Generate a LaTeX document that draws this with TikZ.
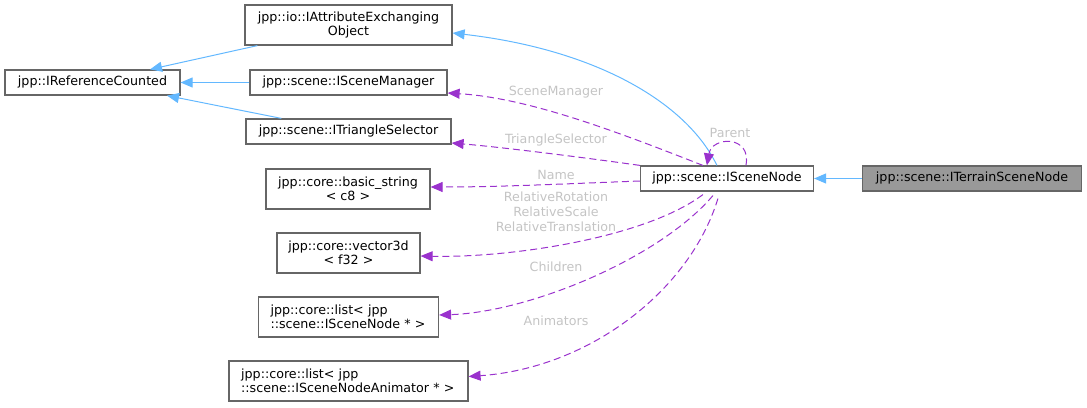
\documentclass[tikz,border=0pt]{standalone}
\usepackage{fontspec}
\setmainfont{DejaVu Sans}
\usepackage{tikz}
\usetikzlibrary{arrows.meta, calc}

\definecolor{inhblue}{HTML}{63B8FF}
\definecolor{usepurple}{HTML}{9A32CD}
\definecolor{boxgray}{HTML}{666666}
\definecolor{lblgray}{HTML}{C4C4C4}

\begin{document}
\begin{tikzpicture}[
        x=0.75pt, y=-0.75pt,
        cls/.style={rectangle, draw=boxgray, line width=0.9pt, inner sep=0pt, minimum width=#1, font=\fontsize{9.5}{10.5}\selectfont, align=center},
        one/.style={minimum height=18.75pt},
        two/.style={minimum height=30pt},
        inh/.style={-{Triangle[length=9pt, width=7.5pt]}, draw=inhblue, line width=0.75pt},
        use/.style={-{Triangle[length=9pt, width=7.5pt]}, draw=usepurple, line width=0.75pt, dash pattern=on 5.25pt off 3pt},
        lbl/.style={text=lblgray, font=\fontsize{9.5}{11.25}\selectfont, align=center, inner sep=0pt}
    ]
        \useasboundingbox (0,0) rectangle (1087,407);

        % base classes
        \node[cls=131.25pt, one] (refcnt) at (92.5, 82.5) {jpp::IReferenceCounted};
        \node[cls=155.25pt, two] (attrex) at (348.5, 25) {jpp::io::IAttributeExchanging\\Object};
        \node[cls=147.75pt, one] (scnmgr) at (348.5, 82.5) {jpp::scene::ISceneManager};
        \node[cls=153.75pt, one] (trisel) at (348.5, 131.5) {jpp::scene::ITriangleSelector};

        % member types
        \node[cls=123pt, two] (bstr) at (348, 189) {jpp::core::basic\_string\\< c8 >};
        \node[cls=107.25pt, two] (vec3d) at (348.5, 253) {jpp::core::vector3d\\< f32 >};
        \node[cls=135pt, two, align=left, text width=117pt] (lstnode) at (348.5, 317) {jpp::core::list< jpp\\::scene::ISceneNode * >};
        \node[cls=179.25pt, two, align=left, text width=161pt] (lstanim) at (348.5, 381) {jpp::core::list< jpp\\::scene::ISceneNodeAnimator * >};

        % scene node and derived
        \node[cls=129.75pt, one] (scnnode) at (727, 178.5) {jpp::scene::ISceneNode};
        \node[cls=164.25pt, one, fill=black!40] (terrain) at (972, 178.5) {jpp::scene::ITerrainSceneNode};

        % inheritance
        \draw[inh] ($(attrex.south west)+(13,0)$) -- ($(refcnt.north)+(57.5,0)$);
        \draw[inh] (scnmgr.west) -- (refcnt.east);
        \draw[inh] ($(trisel.north west)+(36,0)$) -- ($(refcnt.south)+(74.5,0)$);
        \draw[inh] ($(scnnode.north west)+(77,0)$) .. controls (688,105) and (600,50) .. ($(attrex.east)+(0,8)$);
        \draw[inh] (terrain.west) -- (scnnode.east);

        % usage
        \draw[use] ($(scnnode.north west)+(63,0)$) .. controls (620,133) and (530,98) .. ($(scnmgr.east)+(0,10.5)$);
        \draw[use] (scnnode.north west) .. controls (580,157) and (500,147) .. ($(trisel.east)+(0,11.5)$);
        \draw[use] ($(scnnode.west)+(0,2.5)$) .. controls (560,184) and (500,187) .. ($(bstr.east)+(0,-2)$);
        \draw[use] ($(scnnode.south west)+(63,3)$) .. controls (645,238) and (510,258) .. ($(vec3d.east)+(0,3)$);
        \draw[use] ($(scnnode.south west)+(73,4)$) .. controls (660,258) and (530,312) .. ($(lstnode.east)+(0,-2)$);
        \draw[use] ($(scnnode.south west)+(78,7)$) .. controls (690,290) and (590,368) .. ($(lstanim.east)+(0,-4.5)$);
        \draw[use] ($(scnnode.north west)+(106,0)$) .. controls (752,135) and (712,136) .. ($(scnnode.north west)+(67,0)$);

        % labels
        \node[lbl] (lmgr) at (556, 92) {SceneManager};
        \node[lbl] (ltri) at (556, 140) {TriangleSelector};
        \node[lbl] (lname) at (556, 175) {Name};
        \node[lbl] (lrel) at (556, 211.5) {RelativeRotation\\RelativeScale\\RelativeTranslation};
        \node[lbl] (lchld) at (556, 266.5) {Children};
        \node[lbl] (lanim) at (556, 321) {Animators};
        \node[lbl] (lpar) at (730, 133) {Parent};
    \end{tikzpicture}
\end{document}
